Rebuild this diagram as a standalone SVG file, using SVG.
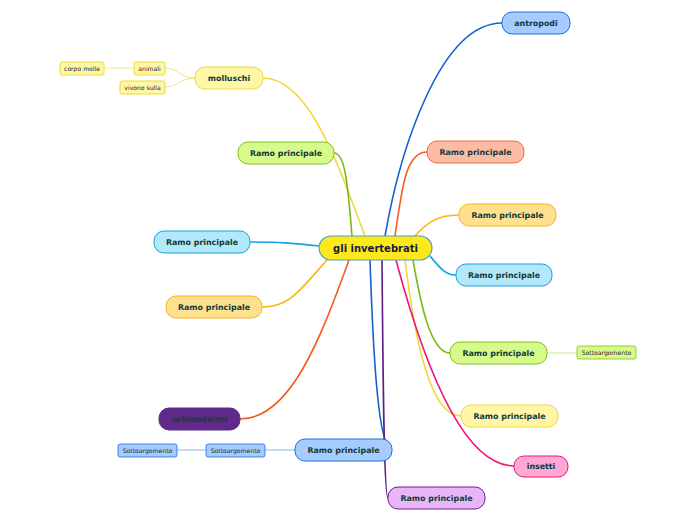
<svg xmlns="http://www.w3.org/2000/svg" width="696" height="520" viewBox="0 0 696 520">
<style>
.t{font-family:"DejaVu Sans",Verdana,sans-serif;font-weight:bold;font-size:7.9px;fill:#0f3a3a;text-anchor:middle;dominant-baseline:central}
.s{font-family:"DejaVu Sans",Verdana,sans-serif;font-size:6.1px;fill:#222;text-anchor:middle;dominant-baseline:central}
.c{fill:none;stroke-width:1.6}
.cs{fill:none;stroke-width:1}
.y{fill:#fff6a8;stroke:#f0d83a}
.g{fill:#d6fb8a;stroke:#86c01c}
.sa{fill:#fbbba5;stroke:#f26b3a}
.o{fill:#ffe08e;stroke:#f8b51a}
.cy{fill:#b3e8fb;stroke:#12a4e0}
.b{fill:#a6cbff;stroke:#1f6fd8}
.p{fill:#e8b6f5;stroke:#6a2191}
.pk{fill:#ffa8d5;stroke:#f0157a}
</style>
<rect width="696" height="520" fill="#fff"/>
<g id="connectors">
<path class="c" stroke="#1a5fd0" d="M385,236 C400,150 440,23 502,23"/>
<path class="c" stroke="#f0d83a" d="M365,236 C340,170 310,78 263,78"/>
<path class="c" stroke="#7cb81a" d="M352,236 C348,190 346,153 334,153"/>
<path class="c" stroke="#f55a1f" d="M395,236 C402,190 405,152 427,152"/>
<path class="c" stroke="#f8b51a" d="M415,236 C425,225 435,215 459,215"/>
<path class="c" stroke="#12a4e0" d="M319,246 C290,243 280,242 250,242"/>
<path class="c" stroke="#12a4e0" d="M430,256 C440,268 445,275 456,275"/>
<path class="c" stroke="#f8b51a" d="M327,260 C300,290 290,307 262,307"/>
<path class="c" stroke="#7cb81a" d="M413,260 C420,300 430,353 450,353"/>
<path class="c" stroke="#f0d83a" d="M405,260 C415,340 430,416 461,416"/>
<path class="c" stroke="#f55a1f" d="M349,260 C320,340 290,419 240,419"/>
<path class="c" stroke="#1a5fd0" d="M370,260 C373,350 378,450 392,450"/>
<path class="c" stroke="#5a1f80" d="M382,260 C383,380 384,498 388,498"/>
<path class="c" stroke="#f0157a" d="M396,260 C420,350 460,466 514,466"/>
<path class="cs" stroke="#c8ec8a" d="M547,353 L577,353"/>
<path class="cs" stroke="#8ab8f0" d="M295,450 L265,450"/>
<path class="cs" stroke="#8ab8f0" d="M206,450 L177,450"/>
<path class="cs" stroke="#f5e58a" d="M195,78 C180,78 178,68 165,68"/>
<path class="cs" stroke="#f5e58a" d="M195,78 C180,78 178,87 165,87"/>
<path class="cs" stroke="#f5e58a" d="M134,68 L104,68"/>
</g>
<g id="center"><rect x="319" y="236" width="113" height="24" rx="12" fill="#fde81a" stroke="#4a9fd0" stroke-width="1.2"/><text x="375.5" y="248" class="t" style="font-size:10px;fill:#1a1a3a">gli invertebrati</text></g>
<g id="antropodi"><rect x="502" y="12" width="68" height="22" rx="10" class="b"/><text x="536" y="23" class="t">antropodi</text></g>
<g id="molluschi"><rect x="195" y="67" width="68" height="22" rx="10" class="y"/><text x="229" y="78" class="t">molluschi</text></g>
<g id="animali"><rect x="134" y="62" width="31" height="13" rx="2" class="y"/><text x="149.5" y="68.5" class="s">animali</text></g>
<g id="corpo-molle"><rect x="60" y="62" width="44" height="13" rx="2" class="y"/><text x="82" y="68.5" class="s">corpo molle</text></g>
<g id="vivono-sulla"><rect x="120" y="81" width="45" height="13" rx="2" class="y"/><text x="142.5" y="87.5" class="s">vivono sulla</text></g>
<g id="ramo-g1"><rect x="238" y="142" width="96" height="22" rx="10" class="g"/><text x="286" y="153" class="t">Ramo principale</text></g>
<g id="ramo-s"><rect x="427" y="141" width="97" height="22" rx="10" class="sa"/><text x="475.5" y="152" class="t">Ramo principale</text></g>
<g id="ramo-o1"><rect x="459" y="204" width="97" height="22" rx="10" class="o"/><text x="507.5" y="215" class="t">Ramo principale</text></g>
<g id="ramo-c1"><rect x="154" y="231" width="96" height="22" rx="10" class="cy"/><text x="202" y="242" class="t">Ramo principale</text></g>
<g id="ramo-c2"><rect x="456" y="264" width="96" height="22" rx="10" class="cy"/><text x="504" y="275" class="t">Ramo principale</text></g>
<g id="ramo-o2"><rect x="166" y="296" width="96" height="22" rx="10" class="o"/><text x="214" y="307" class="t">Ramo principale</text></g>
<g id="ramo-g2"><rect x="450" y="342" width="97" height="22" rx="10" class="g"/><text x="498.5" y="353" class="t">Ramo principale</text></g>
<g id="sotto-g"><rect x="577" y="346" width="59" height="13" rx="2" class="g" stroke-width="0.8"/><text x="606.5" y="352.5" class="s">Sottoargomento</text></g>
<g id="ramo-y"><rect x="461" y="405" width="97" height="22" rx="10" class="y"/><text x="509.5" y="416" class="t">Ramo principale</text></g>
<g id="echinodermi"><rect x="159" y="408" width="81" height="22" rx="10" fill="#5f2a8a" stroke="#5f2a8a"/><text x="199.5" y="419" class="t" style="fill:#1e3a3a">echinodermi</text></g>
<g id="ramo-b"><rect x="295" y="439" width="97" height="22" rx="10" class="b"/><text x="343.5" y="450" class="t">Ramo principale</text></g>
<g id="sotto-b1"><rect x="206" y="444" width="59" height="13" rx="2" class="b" stroke="#5e9ff0" stroke-width="0.8"/><text x="235.5" y="450.5" class="s">Sottoargomento</text></g>
<g id="sotto-b2"><rect x="118" y="444" width="59" height="13" rx="2" class="b" stroke="#5e9ff0" stroke-width="0.8"/><text x="147.5" y="450.5" class="s">Sottoargomento</text></g>
<g id="insetti"><rect x="514" y="456" width="54" height="21" rx="10" class="pk"/><text x="541" y="466.5" class="t">insetti</text></g>
<g id="ramo-p"><rect x="388" y="487" width="97" height="22" rx="10" class="p"/><text x="436.5" y="498" class="t">Ramo principale</text></g>
</svg>
